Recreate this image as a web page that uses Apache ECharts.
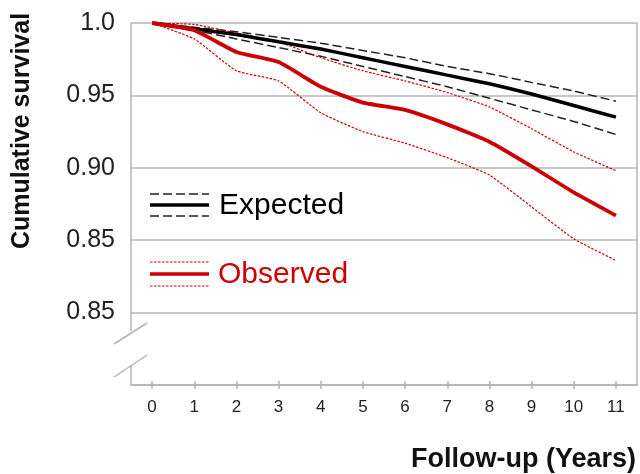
<!DOCTYPE html>
<html><head><meta charset="utf-8">
<script src="https://cdn.jsdelivr.net/npm/echarts@6/dist/echarts.min.js"></script>
<style>html,body{margin:0;padding:0;background:#fff}#c{width:640px;height:474px}</style>
</head><body><div id="c"></div>
<script>
const years = ['0','1','2','3','4','5','6','7','8','9','10','11'];
const yTickValues = [0.80, 0.85, 0.90, 0.95, 1.00];
const yTickLabels = ['0.85', '0.85', '0.90', '0.95', '1.0'];
const expected      = [1.000, 0.996, 0.992, 0.987, 0.982, 0.976, 0.970, 0.964, 0.958, 0.951, 0.943, 0.935];
const expectedUpper = [1.000, 0.997, 0.994, 0.990, 0.986, 0.981, 0.976, 0.970, 0.965, 0.959, 0.953, 0.946];
const expectedLower = [1.000, 0.995, 0.989, 0.983, 0.977, 0.970, 0.963, 0.956, 0.948, 0.940, 0.932, 0.923];
const observed      = [1.000, 0.995, 0.980, 0.973, 0.956, 0.945, 0.940, 0.930, 0.918, 0.901, 0.883, 0.867];
const observedUpper = [1.000, 0.999, 0.993, 0.987, 0.976, 0.967, 0.960, 0.952, 0.942, 0.927, 0.911, 0.898];
const observedLower = [1.000, 0.989, 0.967, 0.960, 0.938, 0.925, 0.917, 0.907, 0.895, 0.873, 0.851, 0.836];

const GRAY = '#b4b4b4';
const RED = '#cc0000';
const FONT = '"Liberation Sans", Arial, sans-serif';
const chart = echarts.init(document.getElementById('c'), null, {renderer: 'canvas'});

function lineSeries(name, data, color, width, type) {
  return {
    name: name, type: 'line', data: data, symbol: 'none', smooth: 0.15,
    xAxisIndex: 0, yAxisIndex: 0,
    lineStyle: {color: color, width: width, type: type},
    z: width > 2 ? 5 : 4, silent: true
  };
}

const graphics = [
  // y axis line with break
  {type: 'line', shape: {x1: 131, y1: 23, x2: 131, y2: 331}, style: {stroke: GRAY, lineWidth: 1.5}},
  {type: 'line', shape: {x1: 131, y1: 366, x2: 131, y2: 385}, style: {stroke: GRAY, lineWidth: 1.5}},
  {type: 'line', shape: {x1: 114, y1: 344, x2: 147, y2: 323}, style: {stroke: GRAY, lineWidth: 1.5}},
  {type: 'line', shape: {x1: 114, y1: 377, x2: 147, y2: 355}, style: {stroke: GRAY, lineWidth: 1.5}},
  // y axis name
  {type: 'text', x: 22, y: 131, rotation: Math.PI / 2,
   style: {text: 'Cumulative survival', font: 'bold 25px ' + FONT, fill: '#111', align: 'center', verticalAlign: 'middle'}},
  // x axis name
  {type: 'text', x: 636, y: 460,
   style: {text: 'Follow-up (Years)', font: 'bold 27px ' + FONT, fill: '#111', align: 'right', verticalAlign: 'middle'}},
  // legend: Expected
  {type: 'line', shape: {x1: 150, y1: 194, x2: 209, y2: 194}, style: {stroke: '#222', lineWidth: 1.5, lineDash: [9, 4]}},
  {type: 'line', shape: {x1: 150, y1: 205, x2: 209, y2: 205}, style: {stroke: '#000', lineWidth: 3.5}},
  {type: 'line', shape: {x1: 150, y1: 216, x2: 209, y2: 216}, style: {stroke: '#222', lineWidth: 1.5, lineDash: [9, 4]}},
  {type: 'text', x: 219, y: 206,
   style: {text: 'Expected', font: '30px ' + FONT, fill: '#000', align: 'left', verticalAlign: 'middle'}},
  // legend: Observed
  {type: 'line', shape: {x1: 150, y1: 262, x2: 209, y2: 262}, style: {stroke: RED, lineWidth: 1.2, lineDash: [2.5, 1.5]}},
  {type: 'line', shape: {x1: 150, y1: 274, x2: 209, y2: 274}, style: {stroke: RED, lineWidth: 3.5}},
  {type: 'line', shape: {x1: 150, y1: 286, x2: 209, y2: 286}, style: {stroke: RED, lineWidth: 1.2, lineDash: [2.5, 1.5]}},
  {type: 'text', x: 218, y: 275,
   style: {text: 'Observed', font: '30px ' + FONT, fill: RED, align: 'left', verticalAlign: 'middle'}}
];

chart.setOption({
  animation: false,
  backgroundColor: '#fff',
  textStyle: {fontFamily: FONT},
  grid: {left: 131, right: 3, top: 23, bottom: 89, containLabel: false},
  xAxis: [
    {type: 'category', data: years, boundaryGap: true,
     axisLine: {show: true, lineStyle: {color: GRAY, width: 1.5}},
     axisTick: {show: true, alignWithLabel: true, length: 4, lineStyle: {color: GRAY, width: 1.5}},
     axisLabel: {fontSize: 17, color: '#222', margin: 14},
     splitLine: {show: false}},
    {type: 'category', data: years, boundaryGap: true, position: 'bottom',
     axisLine: {show: false},
     axisTick: {show: true, inside: true, alignWithLabel: true, length: 4, lineStyle: {color: GRAY, width: 1.5}},
     axisLabel: {show: false}, splitLine: {show: false}}
  ],
  yAxis: [
    {type: 'value', min: 0.75, max: 1.0, interval: 0.05,
     axisLine: {show: false}, axisTick: {show: false},
     axisLabel: {fontSize: 25, color: '#222', margin: 16,
       formatter: function (v) {
         for (let i = 0; i < yTickValues.length; i++) {
           if (Math.abs(v - yTickValues[i]) < 1e-6) return yTickLabels[i];
         }
         return '';
       }},
     splitLine: {show: true, lineStyle: {color: GRAY, width: 1.5}}},
    {type: 'value', min: 0.75, max: 1.0, interval: 0.05, position: 'right',
     axisLine: {show: true, lineStyle: {color: GRAY, width: 1.5}},
     axisTick: {show: false}, axisLabel: {show: false}, splitLine: {show: false}}
  ],
  series: [
    lineSeries('Expected upper', expectedUpper, '#222', 1.5, [9, 4]),
    lineSeries('Expected lower', expectedLower, '#222', 1.5, [9, 4]),
    lineSeries('Observed upper', observedUpper, RED, 1.2, [2.5, 1.5]),
    lineSeries('Observed lower', observedLower, RED, 1.2, [2.5, 1.5]),
    lineSeries('Expected', expected, '#000', 3.5, 'solid'),
    lineSeries('Observed', observed, RED, 3.8, 'solid')
  ],
  graphic: graphics
});
</script></body></html>
